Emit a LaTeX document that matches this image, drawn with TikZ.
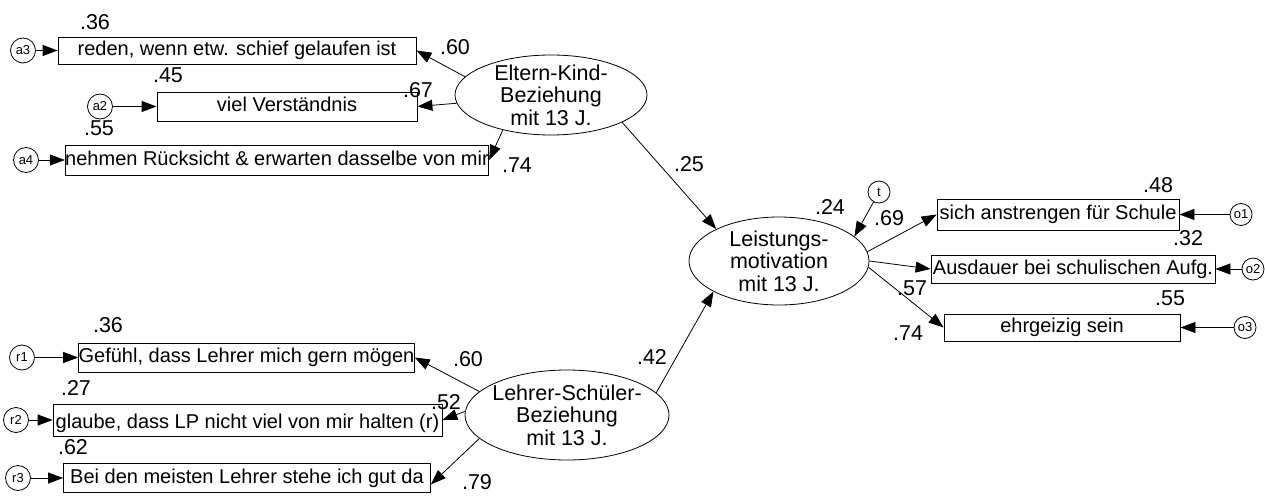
\documentclass[tikz,border=0pt]{standalone}
\usepackage{fontspec}
\setmainfont{Liberation Sans}
\usetikzlibrary{arrows.meta,shapes.geometric}
\begin{document}
\begin{tikzpicture}[x=1pt,y=-1pt,
  font=\fontsize{20}{22.5}\selectfont, line width=0.8pt,
  obs/.style={draw, rectangle, inner sep=0pt, text height=14pt, text depth=4pt},
  lat/.style={draw, ellipse, inner sep=0pt},
  lattext/.style={align=center, font=\fontsize{21.5}{22.5}\selectfont},
  err/.style={draw, circle, inner sep=0pt, minimum size=25pt, font=\fontsize{13}{13}\selectfont},
  errs/.style={err, minimum size=22pt},
  lbl/.style={inner sep=0pt, font=\fontsize{21.5}{22.5}\selectfont},
  conn/.style={-{Triangle[length=15pt,width=11pt]}}
]
\useasboundingbox (0,0) rectangle (1265,495);

% observed variables
\node[obs, minimum width=358pt, minimum height=27pt] (a3b) at (237,50.5) {reden, wenn etw. schief gelaufen ist};
\node[obs, minimum width=260pt, minimum height=29pt] (a2b) at (287,106.5) {viel Verständnis};
\node[obs, minimum width=422pt, minimum height=30pt] (a4b) at (277,160) {nehmen Rücksicht \& erwarten dasselbe von mir};
\node[obs, minimum width=242pt, minimum height=31pt] (o1b) at (1058,214.5) {sich anstrengen für Schule};
\node[obs, minimum width=284pt, minimum height=28pt] (o2b) at (1073,269) {Ausdauer bei schulischen Aufg.};
\node[obs, minimum width=236pt, minimum height=27pt] (o3b) at (1062,327.5) {ehrgeizig sein};
\node[obs, minimum width=335pt, minimum height=29pt] (r1b) at (246.5,357.5) {Gefühl, dass Lehrer mich gern mögen};
\node[obs, minimum width=389pt, minimum height=32pt, text height=19pt, text depth=2pt] (r2b) at (247.5,420) {glaube, dass LP nicht viel von mir halten (r)};
\node[obs, minimum width=367pt, minimum height=29pt] (r3b) at (247,478) {Bei den meisten Lehrer stehe ich gut da};

% latent variables
\node[lat, minimum width=192pt, minimum height=80pt,
  label={[lattext]center:Eltern-Kind-\\Beziehung\\mit 13 J.}] (E) at (551,95) {};
\node[lat, minimum width=180pt, minimum height=88pt,
  label={[lattext]center:Leistungs-\\motivation\\mit 13 J.}] (L) at (779,261) {};
\node[lat, minimum width=204pt, minimum height=90pt,
  label={[lattext]center:Lehrer-Schüler-\\Beziehung\\mit 13 J.}] (T) at (567,415) {};

% error terms
\node[err] (ea3) at (23,50.5) {a3};
\node[err] (ea2) at (100,106.5) {a2};
\node[err] (ea4) at (26,160) {a4};
\node[err] (er1) at (22,357.5) {r1};
\node[err] (er2) at (16,420) {r2};
\node[err] (er3) at (18,478) {r3};
\node[errs] (et) at (879,192) {t};
\node[errs] (eo1) at (1241,214.5) {o1};
\node[errs] (eo2) at (1253,269) {o2};
\node[errs] (eo3) at (1245,327.5) {o3};

% error arrows
\draw[conn] (ea3) -- (a3b);
\draw[conn] (ea2) -- (a2b);
\draw[conn] (ea4) -- (a4b);
\draw[conn] (er1) -- (r1b);
\draw[conn] (er2) -- (r2b);
\draw[conn] (er3) -- (r3b);
\draw[conn] (eo1) -- (o1b);
\draw[conn] (eo2) -- (o2b);
\draw[conn] (eo3) -- (o3b);
\draw[conn] (et) -- (L.18);

% loadings and paths
\draw[conn] (E.168) -- (a3b.east);
\draw[conn] (E.185) -- (a2b.east);
\draw[conn] (E.216) -- (a4b.east);
\draw[conn] (E.339) -- (L.153);
\draw[conn] (T.14) -- (L.205);
\draw[conn] (T.165) -- (r1b.east);
\draw[conn] (T.178) -- (r2b.east);
\draw[conn] (T.195) -- (r3b.-2);
\draw[conn] (L.6) -- (o1b.west);
\draw[conn] (L.0) -- (o2b.west);
\draw[conn] (L.356) -- (o3b.west);

% coefficients
\node[lbl] (w1) at (95,22) {.36};
\node[lbl] (w2) at (168,75) {.45};
\node[lbl] (w3) at (99,128) {.55};
\node[lbl] (w4) at (455,47) {.60};
\node[lbl] (w5) at (418,90) {.67};
\node[lbl] (w6) at (517,165) {.74};
\node[lbl] (w7) at (689,164) {.25};
\node[lbl] (w8) at (830,207) {.24};
\node[lbl] (w9) at (889,218) {.69};
\node[lbl] (w10) at (1158,185) {.48};
\node[lbl] (w11) at (1188,238) {.32};
\node[lbl] (w12) at (1170,298) {.55};
\node[lbl] (w13) at (912,288) {.57};
\node[lbl] (w14) at (908,333) {.74};
\node[lbl] (w15) at (108,325) {.36};
\node[lbl] (w16) at (468,359) {.60};
\node[lbl] (w17) at (76,388) {.27};
\node[lbl] (w18) at (446,402) {.52};
\node[lbl] (w19) at (73,447) {.62};
\node[lbl] (w20) at (477,482) {.79};
\node[lbl] (w21) at (652,357) {.42};
\end{tikzpicture}
\end{document}
